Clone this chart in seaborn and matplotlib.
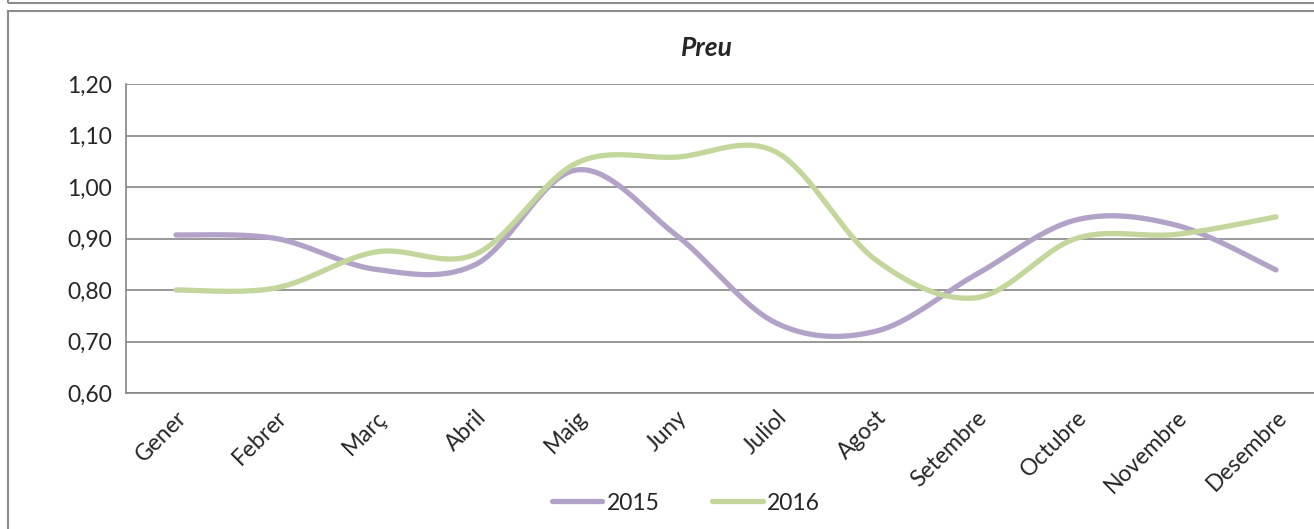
import numpy as np
import pandas as pd
import matplotlib
matplotlib.use("Agg")
import matplotlib.pyplot as plt
import seaborn as sns
from matplotlib.patches import Rectangle
from matplotlib.ticker import FuncFormatter

## Data
mesos = ["Gener", "Febrer", "Març", "Abril", "Maig", "Juny", "Juliol",
         "Agost", "Setembre", "Octubre", "Novembre", "Desembre"]
preu_2015 = [0.907, 0.900, 0.840, 0.850, 1.033, 0.907, 0.736, 0.720, 0.830, 0.936, 0.926, 0.839]
preu_2016 = [0.800, 0.804, 0.874, 0.870, 1.046, 1.058, 1.068, 0.858, 0.785, 0.900, 0.908, 0.942]
series = {"2015": preu_2015, "2016": preu_2016}
colors = {"2015": "#B3A2C7", "2016": "#C3D69B"}


## Excel-like smoothed line (Catmull-Rom Bezier through the points)
def smooth(y, n=40):
    x = np.arange(len(y), dtype=float)
    y = np.asarray(y, dtype=float)
    xs, ys = [], []
    for i in range(len(y) - 1):
        p0 = i - 1 if i > 0 else i
        p3 = i + 2 if i + 2 < len(y) else i + 1
        c1x = x[i] + (x[i + 1] - x[p0]) / 6
        c1y = y[i] + (y[i + 1] - y[p0]) / 6
        c2x = x[i + 1] - (x[p3] - x[i]) / 6
        c2y = y[i + 1] - (y[p3] - y[i]) / 6
        t = np.linspace(0, 1, n)
        b = [(1 - t) ** 3, 3 * (1 - t) ** 2 * t, 3 * (1 - t) * t ** 2, t ** 3]
        xs.append(b[0] * x[i] + b[1] * c1x + b[2] * c2x + b[3] * x[i + 1])
        ys.append(b[0] * y[i] + b[1] * c1y + b[2] * c2y + b[3] * y[i + 1])
    return np.concatenate(xs), np.concatenate(ys)


frames = []
for name, vals in series.items():
    sx, sy = smooth(vals)
    frames.append(pd.DataFrame({"x": sx + 0.5, "preu": sy, "any": name}))
df = pd.concat(frames, ignore_index=True)

sns.set_style("white")
plt.rcParams["font.family"] = ["Lato", "DejaVu Sans"]

W, H = 1314, 529
fig = plt.figure(figsize=(W / 100, H / 100), dpi=100)

## outer frames like the spreadsheet chart area
fig.patches.append(Rectangle((8 / W, (H - 3) / H), 2000 / W, 100 / H, transform=fig.transFigure,
                             fill=False, edgecolor="#8c8c8c", linewidth=1.5))
fig.patches.append(Rectangle((8 / W, -10 / H), 2000 / W, (H - 11 + 10) / H, transform=fig.transFigure,
                             fill=False, edgecolor="#8c8c8c", linewidth=1.5))

ax = fig.add_axes([126 / W, (H - 393) / H, 1200 / W, 309 / H])
sns.lineplot(data=df, x="x", y="preu", hue="any", palette=colors, sort=False,
             estimator=None, linewidth=3.8, ax=ax, legend=False)
for line in ax.get_lines():
    line.set_solid_capstyle("round")

ax.set_xlim(0, 12)
ax.set_ylim(0.6, 1.2)
ax.set_yticks(np.arange(0.6, 1.21, 0.1))
ax.yaxis.set_major_formatter(FuncFormatter(lambda v, p: f"{v:.2f}".replace(".", ",")))
ax.set_xticks(np.arange(0, 13))
ax.set_xticklabels([])
ax.set_xticks(np.arange(12) + 0.5, minor=True)
ax.set_xticklabels(mesos, minor=True, rotation=45, ha="right", rotation_mode="anchor")
ax.tick_params(axis="x", which="minor", length=0, labelsize=16.5, pad=10)
ax.tick_params(axis="x", which="major", length=7, color="#868686", width=1.2)
ax.tick_params(axis="y", length=7, color="#868686", width=1.2, labelsize=16.5, pad=3)
ax.grid(axis="y", color="#868686", linewidth=1.2)
ax.set_axisbelow(True)
for s in ["top", "right"]:
    ax.spines[s].set_visible(False)
for s in ["left", "bottom"]:
    ax.spines[s].set_color("#868686")
    ax.spines[s].set_linewidth(1.2)
ax.set_xlabel("")
ax.set_ylabel("")

fig.text(707 / W, 1 - 48 / H, "Preu", ha="center", va="center",
         fontsize=19, fontweight="bold", fontstyle="italic")

handles = [plt.Line2D([], [], color=colors[k], linewidth=3.8, solid_capstyle="round") for k in series]
fig.legend(handles, list(series.keys()), loc="center", bbox_to_anchor=(686 / W, 1 - 503 / H),
           ncol=2, frameon=False, fontsize=16.5, handlelength=2.2, handletextpad=0.2,
           columnspacing=2.3)

plt.savefig("out.png", dpi=100)
